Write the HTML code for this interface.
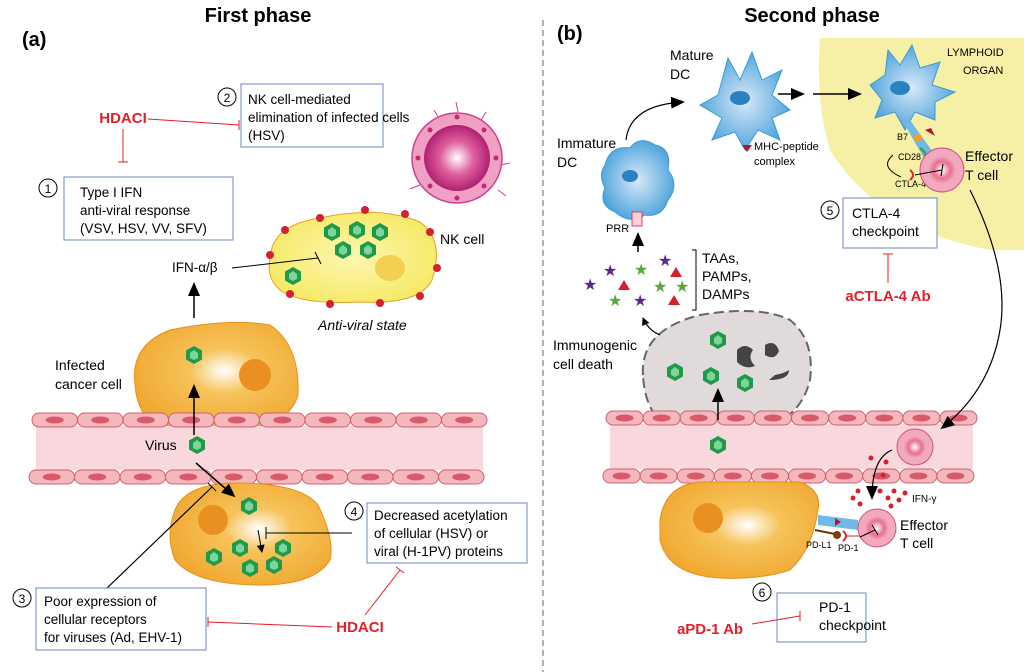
<!DOCTYPE html>
<html><head><meta charset="utf-8"><style>
html,body{margin:0;padding:0;background:#fff;}
svg{display:block;font-family:"Liberation Sans",sans-serif;}
</style></head><body>
<svg id="s" width="1024" height="672" viewBox="0 0 1024 672" xmlns="http://www.w3.org/2000/svg">
<defs>
<radialGradient id="og" cx="0.55" cy="0.45" r="0.6"><stop offset="0" stop-color="#fff"/><stop offset="0.35" stop-color="#f6c35a"/><stop offset="1" stop-color="#f0a830"/></radialGradient>
<radialGradient id="yg" cx="0.5" cy="0.5" r="0.6"><stop offset="0" stop-color="#fdf7b0"/><stop offset="1" stop-color="#f5e860"/></radialGradient>
<radialGradient id="pg" cx="0.5" cy="0.5" r="0.5"><stop offset="0" stop-color="#fff"/><stop offset="0.5" stop-color="#e060a0"/><stop offset="1" stop-color="#b02070"/></radialGradient>
<radialGradient id="tg" cx="0.5" cy="0.5" r="0.5"><stop offset="0" stop-color="#fff"/><stop offset="0.6" stop-color="#e8708f"/><stop offset="1" stop-color="#f3a9bd"/></radialGradient>
<radialGradient id="bg" cx="0.5" cy="0.5" r="0.6"><stop offset="0" stop-color="#d8e8f8"/><stop offset="1" stop-color="#3a9ad8"/></radialGradient>
<marker id="ar" markerWidth="8" markerHeight="8" refX="7" refY="4" orient="auto" markerUnits="userSpaceOnUse"><path d="M0,0L8,4L0,8z" fill="#000"/></marker>
<marker id="arb" markerWidth="14" markerHeight="12" refX="12" refY="6" orient="auto" markerUnits="userSpaceOnUse"><path d="M0,0L14,6L0,12z" fill="#000"/></marker>
<g id="v"><polygon points="0,-9 8,-4.5 8,4.5 0,9 -8,4.5 -8,-4.5" fill="#1f9a4a"/><polygon points="0,-5 4,-2 4,3 0,5 -4,3 -4,-2" fill="#7fd49a"/></g>
</defs>

<path d="M820,38 L1024,38 L1024,250 L990,250 Q880,230 830,150 Q815,100 820,38z" fill="#f5f0a5"/>
<line x1="543" y1="20" x2="543" y2="672" stroke="#666" stroke-dasharray="6,4" stroke-width="1"/>

<text x="258" y="22" font-size="20" font-weight="bold" text-anchor="middle">First phase</text>
<text x="812" y="22" font-size="20" font-weight="bold" text-anchor="middle">Second phase</text>
<text x="22" y="46" font-size="20" font-weight="bold">(a)</text>
<text x="557" y="40" font-size="20" font-weight="bold">(b)</text>

<!-- cells behind vessels -->
<path d="M135,385 Q130,345 170,330 Q230,318 270,325 Q300,345 298,395 Q290,425 240,430 L160,430 Q137,415 135,385z" fill="url(#og)" stroke="#e8901a"/>
<circle cx="255" cy="375" r="16" fill="#ea9020"/>
<use href="#v" x="194" y="355"/>
<path d="M643,375 Q640,330 700,315 Q760,305 790,320 Q815,340 810,380 Q800,420 760,428 Q720,440 680,435 Q645,420 643,375z" fill="#e0dada" stroke="#666" stroke-width="2" stroke-dasharray="10,5"/>
<path d="M737,350 q8,-8 16,0 q-6,8 2,16 q-10,4 -18,-4z" fill="#444"/><path d="M765,345 q10,-6 14,6 q-4,10 -14,4z" fill="#444"/><path d="M775,375 q10,-2 14,-5 q0,10 -20,10z" fill="#444"/>
<use href="#v" x="718" y="340"/><use href="#v" x="675" y="372"/><use href="#v" x="711" y="376"/><use href="#v" x="745" y="383"/>

<g id="vessels"></g>

<!-- LEFT -->
<text x="123" y="123" font-size="15" font-weight="bold" fill="#e0202a" text-anchor="middle">HDACI</text>
<line x1="148" y1="119" x2="239" y2="125" stroke="#e0202a"/><line x1="239" y1="120" x2="239" y2="130" stroke="#e0202a"/>
<line x1="123" y1="129" x2="123" y2="162" stroke="#e0202a"/><line x1="118" y1="162" x2="128" y2="162" stroke="#e0202a"/>
<rect x="241" y="84" width="142" height="63" fill="#fff" stroke="#6d86c6"/>
<text font-size="13.5" x="248"><tspan y="104">NK cell-mediated</tspan><tspan x="248" y="122">elimination of infected cells</tspan><tspan x="248" y="140">(HSV)</tspan></text>
<circle cx="227" cy="97" r="9" fill="none" stroke="#000"/><text x="227" y="102" font-size="12" text-anchor="middle">2</text>
<rect x="64" y="177" width="169" height="63" fill="#fff" stroke="#6d86c6"/>
<text font-size="13.5" x="80"><tspan y="197">Type I IFN</tspan><tspan x="80" y="215">anti-viral response</tspan><tspan x="80" y="233">(VSV, HSV, VV, SFV)</tspan></text>
<circle cx="48" cy="188" r="9" fill="none" stroke="#000"/><text x="48" y="193" font-size="12" text-anchor="middle">1</text>

<g stroke="#d04090" stroke-width="1"><path d="M440,120 l-6,-10 M480,122 l6,-10 M500,165 l10,-2 M498,190 l8,6 M458,112 l-2,-10 M420,185 l-10,4"/></g>
<circle cx="457" cy="158" r="45" fill="#f0a0c4" stroke="#d04090" stroke-width="1.5"/>
<circle cx="457" cy="158" r="33" fill="url(#pg)"/>
<g fill="#c02a70"><circle cx="430" cy="130" r="2.5"/><circle cx="457" cy="117" r="2.5"/><circle cx="484" cy="130" r="2.5"/><circle cx="496" cy="158" r="2.5"/><circle cx="484" cy="186" r="2.5"/><circle cx="457" cy="198" r="2.5"/><circle cx="430" cy="186" r="2.5"/><circle cx="418" cy="158" r="2.5"/></g>
<text x="440" y="244" font-size="14">NK cell</text>

<path d="M270,258 Q272,225 320,218 Q380,205 420,222 Q445,240 432,280 Q420,305 360,302 Q300,305 280,290 Q266,278 270,258z" fill="url(#yg)" stroke="#e8a020"/>
<ellipse cx="390" cy="268" rx="15" ry="13" fill="#f3d050"/>
<g fill="#d42030"><circle cx="270" cy="255" r="4"/><circle cx="285" cy="230" r="4"/><circle cx="320" cy="218" r="4"/><circle cx="365" cy="210" r="4"/><circle cx="405" cy="214" r="4"/><circle cx="430" cy="232" r="4"/><circle cx="437" cy="268" r="4"/><circle cx="420" cy="296" r="4"/><circle cx="380" cy="303" r="4"/><circle cx="330" cy="304" r="4"/><circle cx="290" cy="294" r="4"/></g>
<use href="#v" x="332" y="232"/><use href="#v" x="357" y="230"/><use href="#v" x="380" y="232"/><use href="#v" x="343" y="250"/><use href="#v" x="368" y="250"/><use href="#v" x="293" y="276"/>
<text x="318" y="330" font-size="14" font-style="italic">Anti-viral state</text>
<text x="172" y="272" font-size="13.5">IFN-α/β</text>
<line x1="232" y1="268" x2="318" y2="258" stroke="#000"/><line x1="315" y1="252" x2="321" y2="264" stroke="#000"/>
<line x1="194" y1="318" x2="194" y2="284" stroke="#000" stroke-width="1.5" marker-end="url(#arb)"/>
<text font-size="14" x="55"><tspan y="370">Infected</tspan><tspan x="55" y="389">cancer cell</tspan></text>

<path d="M175,510 Q185,485 230,483 Q300,482 318,505 Q335,540 330,560 Q315,585 260,585 Q195,585 175,560 Q165,535 175,510z" fill="url(#og)" stroke="#e8901a"/>
<circle cx="213" cy="520" r="15" fill="#ea9020"/>
<use href="#v" x="249" y="506"/><use href="#v" x="240" y="548"/><use href="#v" x="283" y="548"/><use href="#v" x="214" y="557"/><use href="#v" x="250" y="568"/><use href="#v" x="274" y="565"/>
<line x1="258" y1="530" x2="262" y2="552" stroke="#000" marker-end="url(#ar)"/>

<line x1="194" y1="435" x2="194" y2="386" stroke="#000" stroke-width="1.5" marker-end="url(#arb)"/>
<text x="145" y="450" font-size="14">Virus</text>
<use href="#v" x="197" y="445"/>
<line x1="196" y1="463" x2="234" y2="496" stroke="#000" stroke-width="1.5" marker-end="url(#arb)"/>
<line x1="105" y1="590" x2="212" y2="487" stroke="#000" stroke-width="1.2"/><line x1="208" y1="483" x2="216" y2="491" stroke="#000"/>
<line x1="352" y1="533" x2="266" y2="533" stroke="#000"/><line x1="266" y1="527" x2="266" y2="539" stroke="#000"/>

<rect x="367" y="503" width="160" height="60" fill="#fff" stroke="#6d86c6"/>
<text font-size="13.5" x="374"><tspan y="520">Decreased acetylation</tspan><tspan x="374" y="538">of cellular (HSV) or</tspan><tspan x="374" y="556">viral (H-1PV) proteins</tspan></text>
<circle cx="354" cy="511" r="9" fill="none" stroke="#000"/><text x="354" y="516" font-size="12" text-anchor="middle">4</text>

<rect x="36" y="588" width="170" height="62" fill="#fff" stroke="#6d86c6"/>
<text font-size="13.5" x="44"><tspan y="606">Poor expression of</tspan><tspan x="44" y="624">cellular receptors</tspan><tspan x="44" y="642">for viruses (Ad, EHV-1)</tspan></text>
<circle cx="22" cy="598" r="9" fill="none" stroke="#000"/><text x="22" y="603" font-size="12" text-anchor="middle">3</text>
<text x="360" y="632" font-size="15" font-weight="bold" fill="#e0202a" text-anchor="middle">HDACI</text>
<line x1="332" y1="627" x2="208" y2="622" stroke="#e0202a"/><line x1="208" y1="617" x2="208" y2="627" stroke="#e0202a"/>
<line x1="365" y1="615" x2="400" y2="570" stroke="#e0202a"/><line x1="396" y1="567" x2="404" y2="573" stroke="#e0202a"/>

<!-- RIGHT -->
<path d="M605,165 Q610,145 630,148 Q640,135 655,145 Q672,148 668,170 Q680,185 668,200 Q662,218 645,215 Q630,225 615,212 Q598,205 605,188 Q598,175 605,165z" fill="url(#bg)" stroke="#3a9ad8"/>
<ellipse cx="630" cy="176" rx="8" ry="6" fill="#2a80c0"/>
<rect x="632" y="212" width="10" height="14" fill="#fbd0d8" stroke="#e04060"/>
<text x="606" y="232" font-size="11">PRR</text>
<text font-size="14" x="557"><tspan y="148">Immature</tspan><tspan x="557" y="167">DC</tspan></text>
<path d="M626,140 Q630,105 683,102" fill="none" stroke="#000" stroke-width="1.2" marker-end="url(#arb)"/>
<path d="M700,105 L718,95 L728,58 L740,80 L752,52 L762,80 L782,70 L772,95 L790,110 L772,118 L780,140 L758,130 L745,150 L735,132 L712,140 L722,118z" fill="url(#bg)" stroke="#3a9ad8"/>
<ellipse cx="740" cy="98" rx="10" ry="7" fill="#2a80c0"/>
<path d="M742,145 L752,145 L747,152z" fill="#b01828"/>
<text font-size="14" x="670"><tspan y="60">Mature</tspan><tspan x="670" y="79">DC</tspan></text>
<text font-size="11" x="754"><tspan y="150">MHC-peptide</tspan><tspan x="754" y="165">complex</tspan></text>
<line x1="778" y1="94" x2="803" y2="94" stroke="#000" stroke-width="1.5" marker-end="url(#arb)"/>
<line x1="813" y1="94" x2="860" y2="94" stroke="#000" stroke-width="1.5" marker-end="url(#arb)"/>
<path d="M870,85 L885,75 L888,50 L900,65 L912,45 L920,68 L940,62 L932,85 L955,92 L935,102 L935,120 L915,112 L905,130 L895,112 L875,118 L882,100z" fill="url(#bg)" stroke="#3a9ad8"/>
<ellipse cx="900" cy="88" rx="10" ry="7" fill="#2a80c0"/>
<path d="M910,120 L935,155 L925,160 L905,125z" fill="#70b8e8"/>
<text font-size="11" x="947"><tspan y="56">LYMPHOID</tspan><tspan x="963" y="74">ORGAN</tspan></text>
<text x="897" y="140" font-size="9">B7</text><circle cx="918" cy="138" r="4" fill="#f0a020"/>
<path d="M925,130 L935,136 L931,128z" fill="#b01828"/>
<text x="898" y="160" font-size="9">CD28</text>
<path d="M920,148 q8,5 4,12" fill="none" stroke="#30a040" stroke-width="2"/>
<text x="895" y="187" font-size="9">CTLA-4</text>
<path d="M910,170 q6,5 0,10" fill="none" stroke="#e02030" stroke-width="2"/>
<circle cx="942" cy="170" r="22" fill="#f3a9bd" stroke="#d05080"/><circle cx="942" cy="170" r="14" fill="url(#tg)"/>
<line x1="915" y1="175" x2="942" y2="170" stroke="#000"/><line x1="943" y1="164" x2="941" y2="176" stroke="#000"/>
<text font-size="14" x="965"><tspan y="161">Effector</tspan><tspan x="965" y="180">T cell</tspan></text>
<path d="M893,155 q-14,12 8,22" fill="none" stroke="#000"/>
<rect x="843" y="198" width="94" height="50" fill="#fff" stroke="#6d86c6"/>
<text font-size="14" x="852"><tspan y="218">CTLA-4</tspan><tspan x="852" y="236">checkpoint</tspan></text>
<circle cx="830" cy="210" r="9" fill="none" stroke="#000"/><text x="830" y="215" font-size="12" text-anchor="middle">5</text>
<line x1="888" y1="283" x2="888" y2="254" stroke="#e0202a"/><line x1="883" y1="254" x2="893" y2="254" stroke="#e0202a"/>
<text x="888" y="301" font-size="15" font-weight="bold" fill="#e0202a" text-anchor="middle">aCTLA-4 Ab</text>
<path d="M970,190 Q1010,270 1000,330 Q990,390 942,428" fill="none" stroke="#000" stroke-width="1.2" marker-end="url(#arb)"/>

<g font-size="16"><text x="583" y="290" fill="#5a2a8a">★</text><text x="603" y="276" fill="#5a2a8a">★</text><text x="634" y="275" fill="#5aa83a">★</text><text x="658" y="266" fill="#5a2a8a">★</text><text x="653" y="292" fill="#5aa83a">★</text><text x="675" y="292" fill="#5aa83a">★</text><text x="608" y="306" fill="#5aa83a">★</text><text x="633" y="306" fill="#5a2a8a">★</text></g>
<g fill="#d42030"><path d="M618,290 l6,-10 l6,10z"/><path d="M670,277 l6,-10 l6,10z"/><path d="M668,305 l6,-10 l6,10z"/></g>
<path d="M692,250 h4 v60 h-4" fill="none" stroke="#000"/>
<text font-size="14" x="702"><tspan y="263">TAAs,</tspan><tspan x="702" y="281">PAMPs,</tspan><tspan x="702" y="299">DAMPs</tspan></text>
<line x1="638" y1="252" x2="638" y2="234" stroke="#000" stroke-width="1.5" marker-end="url(#arb)"/>
<path d="M660,335 Q648,330 643,318" fill="none" stroke="#000" stroke-width="1.2" marker-end="url(#ar)"/>
<text font-size="14" x="553"><tspan y="350">Immunogenic</tspan><tspan x="553" y="369">cell death</tspan></text>
<line x1="718" y1="420" x2="718" y2="390" stroke="#000" stroke-width="1.5" marker-end="url(#arb)"/>
<use href="#v" x="718" y="445"/>

<circle cx="915" cy="447" r="18" fill="#f3a9bd" stroke="#d05080"/><circle cx="915" cy="447" r="11" fill="url(#tg)"/>
<g fill="#d42030"><circle cx="871" cy="458" r="2.5"/><circle cx="886" cy="462" r="2.5"/><circle cx="883" cy="475" r="2.5"/><circle cx="858" cy="491" r="2.5"/><circle cx="853" cy="498" r="2.5"/><circle cx="860" cy="504" r="2.5"/><circle cx="880" cy="491" r="2.5"/><circle cx="894" cy="491" r="2.5"/><circle cx="888" cy="498" r="2.5"/><circle cx="899" cy="500" r="2.5"/><circle cx="905" cy="493" r="2.5"/><circle cx="891" cy="506" r="2.5"/></g>
<path d="M892,450 Q872,458 872,498" fill="none" stroke="#000" stroke-width="1.2" marker-end="url(#arb)"/>
<text x="912" y="502" font-size="10">IFN-γ</text>
<path d="M660,520 Q665,485 700,482 L800,482 Q822,490 818,510 Q812,550 790,570 Q760,580 720,578 Q668,575 660,540z" fill="url(#og)" stroke="#e8901a"/>
<circle cx="708" cy="518" r="15" fill="#ea9020"/>
<path d="M818,515 L858,520 L858,530 L818,525z" fill="#70b8e8"/><path d="M835,518 l6,4 l-6,4z" fill="#b01828"/>
<line x1="815" y1="530" x2="835" y2="534" stroke="#6a3a10" stroke-width="2"/><circle cx="837" cy="535" r="4" fill="#7a4010"/>
<path d="M843,531 q6,5 0,10" fill="none" stroke="#e02030" stroke-width="2"/><line x1="846" y1="536" x2="868" y2="536" stroke="#e02030"/>
<circle cx="877" cy="528" r="19" fill="#f3a9bd" stroke="#d05080"/><circle cx="877" cy="528" r="12" fill="url(#tg)"/>
<line x1="860" y1="537" x2="875" y2="530" stroke="#000"/><line x1="872" y1="525" x2="878" y2="535" stroke="#000"/>
<text x="806" y="548" font-size="9">PD-L1</text><text x="838" y="551" font-size="9">PD-1</text>
<text font-size="14" x="900"><tspan y="530">Effector</tspan><tspan x="900" y="548">T cell</tspan></text>
<rect x="777" y="593" width="89" height="49" fill="#fff" stroke="#6d86c6"/>
<text font-size="14" x="819"><tspan y="612">PD-1</tspan><tspan x="819" y="630">checkpoint</tspan></text>
<circle cx="762" cy="592" r="9" fill="none" stroke="#000"/><text x="762" y="597" font-size="12" text-anchor="middle">6</text>
<line x1="752" y1="624" x2="800" y2="616" stroke="#e0202a"/><line x1="800" y1="611" x2="800" y2="621" stroke="#e0202a"/>
<text x="710" y="634" font-size="15" font-weight="bold" fill="#e0202a" text-anchor="middle">aPD-1 Ab</text>
</svg>
<script>
(function(){
var g=document.getElementById('vessels'),h='';
function vessel(x0,x1,yt,yb){
 h+='<rect x="'+(x0+4)+'" y="'+(yt+13)+'" width="'+(x1-x0-8)+'" height="'+(yb-yt-13)+'" fill="#f8d8dc"/>';
 [yt,yb].forEach(function(y,k){var n=10,w=(x1-x0)/n;for(var i=0;i<n;i++){var x=x0+i*w+(k?-3:0);
 h+='<rect x="'+x+'" y="'+y+'" width="'+w+'" height="14" rx="7" fill="#f3b7bd" stroke="#d06070"/>';
 h+='<ellipse cx="'+(x+w/2)+'" cy="'+(y+7)+'" rx="9" ry="3.5" fill="#d85a6a"/>';}});
}
vessel(32,487,413,470);
vessel(606,977,411,469);
g.innerHTML=h;
})();
</script>
</body></html>
